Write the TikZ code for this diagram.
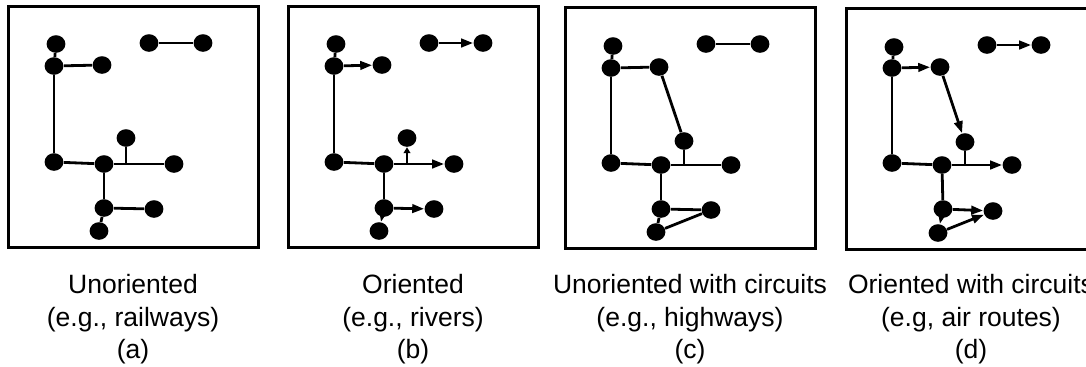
\documentclass[tikz,border=0pt]{standalone}
\usepackage{fontspec}
\setmainfont{Liberation Sans}
\usetikzlibrary{shapes.geometric,arrows.meta}
\tikzset{
  stn/.style={ellipse, fill=black, inner sep=0pt, minimum width=9.4pt, minimum height=8.8pt},
  edge/.style={line width=1.4pt},
  dir/.style={edge, -{Triangle[length=6pt,width=4.2pt]}},
  frame/.style={line width=1.5pt},
  caption/.style={align=center, anchor=north, inner sep=0pt, font=\fontsize{13.25}{16.2}\selectfont}
}
\begin{document}
\begin{tikzpicture}[x=0.5pt,y=-0.5pt]
\useasboundingbox (0,0) rectangle (1086,366);

\begin{scope}[shift={(8,6)}, name prefix=a-]
\draw[frame] (0,0) rectangle (250,241);
\node[stn] (n1) at (48,38) {};
\node[stn] (n2) at (46,60) {};
\node[stn] (n3) at (94,59) {};
\node[stn] (p1) at (141,37) {};
\node[stn] (p2) at (195,37) {};
\node[stn] (n6) at (118,132) {};
\node[stn] (n4) at (46,156) {};
\node[stn] (n5) at (96,158) {};
\node[stn] (n7) at (166,158) {};
\node[stn] (n8) at (96,202) {};
\node[stn] (n9) at (146,203) {};
\node[stn] (n10) at (91,225) {};
\draw[edge] (n1) -- (n2);
\draw[edge] (n2) -- (n3);
\draw[edge] (p1) -- (p2);
\draw[edge] (n2) -- (n4);
\draw[edge] (n4) -- (n5);
\draw[edge] (n5) -- (n7);
\draw[edge] (n6) -- (n6 |- n5);
\draw[edge] (n5) -- (n8);
\draw[edge] (n8) -- (n9);
\draw[edge] (n8) -- (n10);
\end{scope}

\begin{scope}[shift={(288,6)}, name prefix=b-]
\draw[frame] (0,0) rectangle (250,241);
\node[stn] (n1) at (48,38) {};
\node[stn] (n2) at (46,60) {};
\node[stn] (n3) at (94,59) {};
\node[stn] (p1) at (141,37) {};
\node[stn] (p2) at (195,37) {};
\node[stn] (n6) at (119,132) {};
\node[stn] (n4) at (46,156) {};
\node[stn] (n5) at (96,158) {};
\node[stn] (n7) at (166,158) {};
\node[stn] (n8) at (96,202) {};
\node[stn] (n9) at (146,203) {};
\node[stn] (n10) at (91,225) {};
\draw[edge] (n1) -- (n2);
\draw[dir] (n2) -- (n3);
\draw[dir] (p1) -- (p2);
\draw[edge] (n2) -- (n4);
\draw[edge] (n4) -- (n5);
\draw[dir] (n5) -- (n7);
\draw[edge, -{Triangle[length=3pt,width=3.4pt]}] (n6 |- n5) -- (n6);
\draw[edge] (n5) -- (n8);
\draw[dir] (n8) -- (n9);
\draw[dir] (n8) -- (n10);
\end{scope}

\begin{scope}[shift={(565,7)}, name prefix=c-]
\draw[frame] (0,0) rectangle (250,241);
\node[stn] (n1) at (48,39) {};
\node[stn] (n2) at (46,61) {};
\node[stn] (n3) at (94,60) {};
\node[stn] (p1) at (141,37) {};
\node[stn] (p2) at (195,37) {};
\node[stn] (n6) at (119,134) {};
\node[stn] (n4) at (46,156) {};
\node[stn] (n5) at (96,158) {};
\node[stn] (n7) at (166,158) {};
\node[stn] (n8) at (96,202) {};
\node[stn] (n9) at (146,203) {};
\node[stn] (n10) at (91,225) {};
\draw[edge] (n1) -- (n2);
\draw[edge] (n2) -- (n3);
\draw[edge] (n3) -- (n6);
\draw[edge] (p1) -- (p2);
\draw[edge] (n2) -- (n4);
\draw[edge] (n4) -- (n5);
\draw[edge] (n5) -- (n7);
\draw[edge] (n6) -- (n6 |- n5);
\draw[edge] (n5) -- (n8);
\draw[edge] (n8) -- (n9);
\draw[edge] (n8) -- (n10);
\draw[edge] (n10) -- (n9);
\end{scope}

\begin{scope}[shift={(846,8)}, name prefix=d-]
\draw[frame] (0,0) rectangle (250,241);
\node[stn] (n1) at (48,39) {};
\node[stn] (n2) at (46,60) {};
\node[stn] (n3) at (94,59) {};
\node[stn] (p1) at (141,37) {};
\node[stn] (p2) at (195,37) {};
\node[stn] (n6) at (119,134) {};
\node[stn] (n4) at (46,155) {};
\node[stn] (n5) at (96,157) {};
\node[stn] (n7) at (166,157) {};
\node[stn] (n8) at (97,201) {};
\node[stn] (n9) at (147,203) {};
\node[stn] (n10) at (92,225) {};
\draw[edge] (n1) -- (n2);
\draw[dir] (n2) -- (n3);
\draw[dir] (n3) -- (n6);
\draw[dir] (p1) -- (p2);
\draw[edge] (n2) -- (n4);
\draw[edge] (n4) -- (n5);
\draw[dir] (n5) -- (n7);
\draw[edge] (n6) -- (n6 |- n5);
\draw[edge] (n5) -- (n8);
\draw[dir] (n8) -- (n9);
\draw[dir] (n8) -- (n10);
\draw[dir] (n10) -- (n9);
\end{scope}

\node[caption] (la) at (133,274) {Unoriented\\(e.g., railways)\\(a)};
\node[caption] (lb) at (413,274) {Oriented\\(e.g., rivers)\\(b)};
\node[caption] (lc) at (690,274) {Unoriented with circuits\\(e.g., highways)\\(c)};
\node[caption] (ld) at (971,274) {Oriented with circuits\\(e.g, air routes)\\(d)};
\end{tikzpicture}
\end{document}
